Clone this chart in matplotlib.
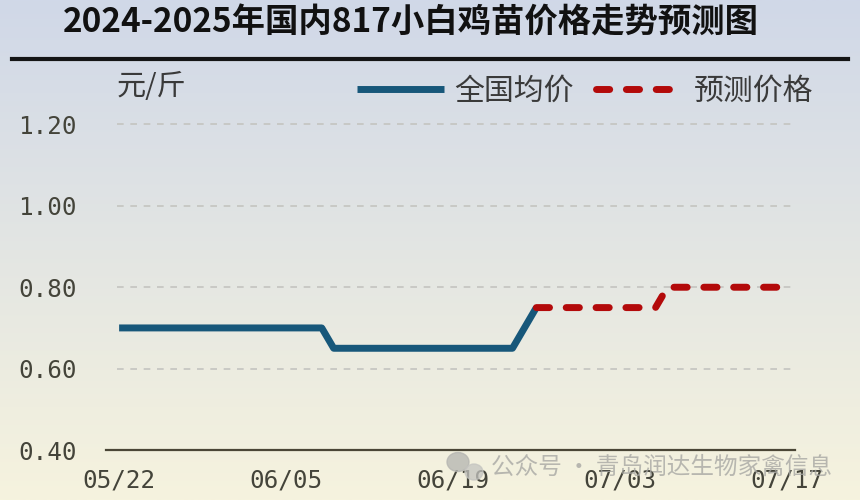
import numpy as np
import pandas as pd
import matplotlib
matplotlib.use("Agg")
import matplotlib.pyplot as plt
import matplotlib.dates as mdates
from matplotlib.lines import Line2D
from matplotlib.patches import Ellipse

plt.rcParams['font.family'] = ['Noto Sans CJK SC', 'DejaVu Sans']

# 全国均价 (actual)
actual_dates = pd.to_datetime(["2025-05-22", "2025-06-08", "2025-06-09", "2025-06-24", "2025-06-26"])
actual_vals = [0.70, 0.70, 0.65, 0.65, 0.75]
# 预测价格 (forecast)
fc_dates = pd.to_datetime(["2025-06-26", "2025-07-06", "2025-07-07", "2025-07-17"])
fc_vals = [0.75, 0.75, 0.80, 0.80]

xticks = pd.to_datetime(["2025-05-22", "2025-06-05", "2025-06-19", "2025-07-03", "2025-07-17"])
yticks = [0.40, 0.60, 0.80, 1.00, 1.20]

title = "2024-2025年国内817小白鸡苗价格走势预测图"
unit = "元/斤"
labels = ["全国均价", "预测价格"]
watermark = "公众号 · 青岛润达生物家禽信息"

W, H = 860, 500
fig = plt.figure(figsize=(W / 100, H / 100), dpi=100)

# background gradient: bluish grey at top -> cream at bottom
bg = fig.add_axes([0, 0, 1, 1], zorder=-10)
top = np.array([208, 216, 232]) / 255
bottom = np.array([246, 243, 222]) / 255
t = np.linspace(0, 1, 256)[:, None]
grad = top * (1 - t) + bottom * t
bg.imshow(grad[:, None, :], aspect='auto', extent=[0, 1, 0, 1])
bg.axis('off')

# title + rule
fig.text(411 / W, 1 - 23 / H, title, ha='center', va='center',
         fontsize=24, fontweight='bold', color='#111111')
fig.add_artist(Line2D([12 / W, 848 / W], [1 - 59 / H] * 2, color='#151515', lw=3))

ax = fig.add_axes([106 / W, 50 / H, (795 - 106) / W, (450 - 96) / H])
ax.patch.set_alpha(0)

start = xticks[0]
ax.set_xlim(start - pd.Timedelta(days=1.1), start + pd.Timedelta(days=56.7))
ax.set_ylim(0.40, 1.27)

for y in yticks[1:]:
    ax.hlines(y, start - pd.Timedelta(days=0.2), start + pd.Timedelta(days=56.4),
              colors='#c4c4c0', linestyles=(0, (4, 4)), lw=1.2, zorder=1)

ax.plot(actual_dates, actual_vals, color='#17577a', lw=5,
        solid_capstyle='butt', solid_joinstyle='round', zorder=3, label=labels[0])
ax.plot(fc_dates, fc_vals, color='#b30a0a', lw=5, linestyle=(0, (1.9, 2.4)),
        dash_capstyle='round', dash_joinstyle='round', zorder=3, label=labels[1])

for s in ['top', 'right', 'left']:
    ax.spines[s].set_visible(False)
ax.spines['bottom'].set_color('#4a4636')
ax.spines['bottom'].set_linewidth(1.6)

ax.set_xticks(xticks)
ax.xaxis.set_major_formatter(mdates.DateFormatter('%m/%d'))
ax.set_yticks(yticks)
ax.set_yticklabels([f"{v:.2f}" for v in yticks])
ax.tick_params(length=0)
ax.tick_params(axis='y', pad=21)
ax.tick_params(axis='x', pad=13)
for lab in ax.get_xticklabels() + ax.get_yticklabels():
    lab.set_family('DejaVu Sans Mono')
    lab.set_fontsize(17.5)
    lab.set_color('#44443a')

fig.text(117 / W, 1 - 87 / H, unit, ha='left', va='center', fontsize=21, color='#3a3a3a')

leg = ax.legend(loc='center right', bbox_to_anchor=(828 / W, 1 - 91 / H),
                bbox_transform=fig.transFigure, ncol=2, frameon=False, fontsize=21.5,
                handlelength=2.9, handletextpad=0.36, columnspacing=0.75, borderpad=0)
for txt in leg.get_texts():
    txt.set_color('#3a3a3a')

# watermark
fig.add_artist(Ellipse((458 / W, 1 - 462 / H), 22 / W, 19 / H, color='#b4b4b0', alpha=0.75))
fig.add_artist(Ellipse((474 / W, 1 - 472 / H), 18 / W, 16 / H, color='#c4c4c0', alpha=0.75))
fig.text(491 / W, 1 - 467 / H, watermark, ha='left', va='center', fontsize=17,
         color='#a8a8a4', alpha=0.8)

fig.savefig('out.png', dpi=100)
